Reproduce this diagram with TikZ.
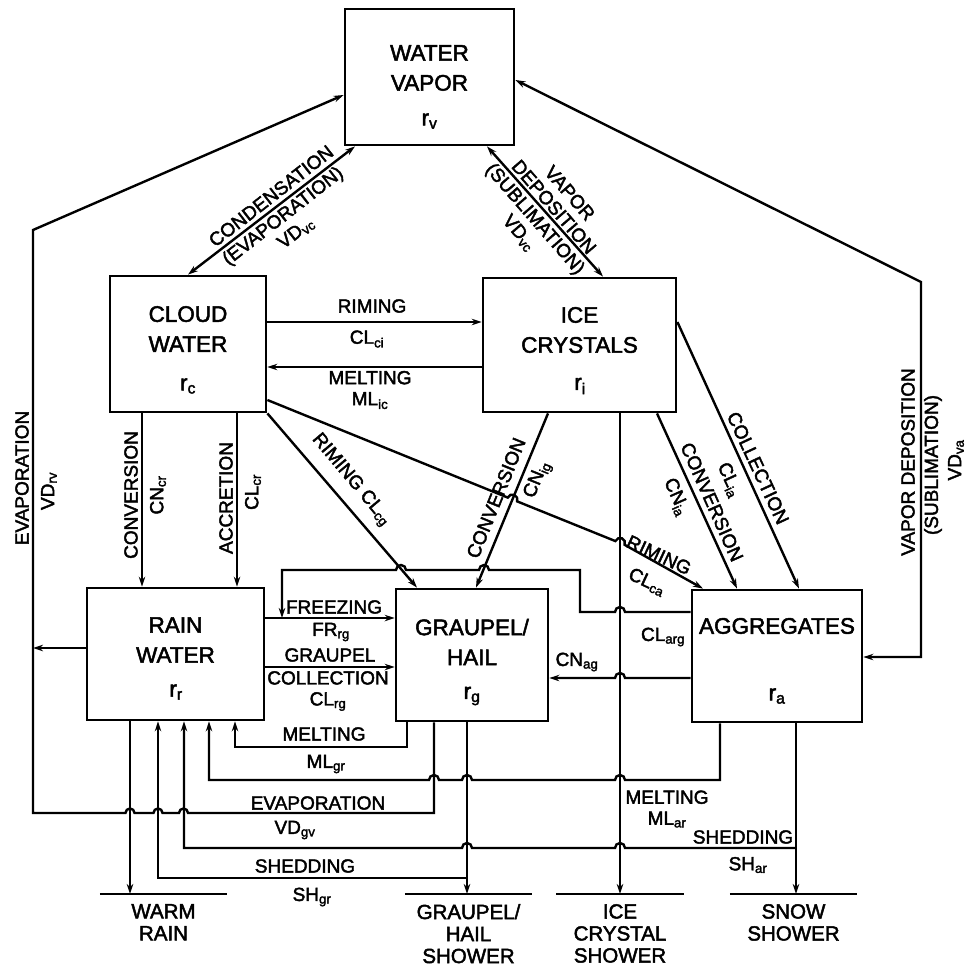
\documentclass[tikz,border=0pt]{standalone}
\usepackage{fontspec}
\setmainfont{Liberation Sans}[FakeBold=2.2]
\usetikzlibrary{arrows.meta}
\tikzset{
box/.style={draw, line width=2.8pt, inner sep=0pt},
boxtext/.style={font=\fontsize{22.5}{30}\selectfont, align=center, inner sep=0pt},
lbl/.style={font=\fontsize{19}{23}\selectfont, align=center, inner sep=1pt},
stack/.style={font=\fontsize{19}{21}\selectfont, align=center, inner sep=1pt},
sink/.style={font=\fontsize{20.5}{22}\selectfont, align=center, anchor=north, inner xsep=0pt, inner ysep=10pt, minimum width=127pt},
flow/.style={line width=2.4pt, -{Stealth[length=10pt,width=6.5pt]}},
both/.style={line width=2.4pt, {Stealth[length=10pt,width=6.5pt]}-{Stealth[length=10pt,width=6.5pt]}},
base/.style={line width=2.8pt}
}
\begin{document}
\begin{tikzpicture}[x=1pt,y=-1pt]
\useasboundingbox (0,0) rectangle (965,968);
\node[box, minimum width=169pt, minimum height=136pt] (wv) at (429.5,77) {};
\node[box, minimum width=156pt, minimum height=136pt] (cw) at (188,344) {};
\node[box, minimum width=193pt, minimum height=134pt] (ic) at (579.5,345) {};
\node[box, minimum width=177pt, minimum height=132pt] (rw) at (175.5,654) {};
\node[box, minimum width=152pt, minimum height=132pt] (gh) at (472,655) {};
\node[box, minimum width=170pt, minimum height=132pt] (ag) at (777,656) {};
\node[boxtext] (wvname) at (429.5,68) {WATER\\VAPOR};
\node[boxtext] (wvr) at (429.5,121) {r\textsubscript{v}};
\node[boxtext] (cwname) at (188,329) {CLOUD\\WATER};
\node[boxtext] (cwr) at (188,386) {r\textsubscript{c}};
\node[boxtext] (icname) at (579.5,330) {ICE\\CRYSTALS};
\node[boxtext] (icr) at (580,386) {r\textsubscript{i}};
\node[boxtext] (rwname) at (175.5,640) {RAIN\\WATER};
\node[boxtext] (rwr) at (176,692) {r\textsubscript{r}};
\node[boxtext] (ghname) at (472,642) {GRAUPEL/\\HAIL};
\node[boxtext] (ghr) at (472,696) {r\textsubscript{g}};
\node[boxtext] (agname) at (777,626) {AGGREGATES};
\node[boxtext] (agr) at (777,696) {r\textsubscript{a}};
\node[sink] (warm) at (163.5,894) {WARM\\RAIN};
\node[sink] (ghs) at (468.5,894) {GRAUPEL/\\HAIL\\SHOWER};
\node[sink] (ics) at (620,894) {ICE\\CRYSTAL\\SHOWER};
\node[sink] (snow) at (793.5,894) {SNOW\\SHOWER};
\draw[base] (warm.north west) -- (warm.north east);
\draw[base] (ghs.north west) -- (ghs.north east);
\draw[base] (ics.north west) -- (ics.north east);
\draw[base] (snow.north west) -- (snow.north east);
\coordinate (evapjoin) at (33,648);
\coordinate (snowtap) at (796,848);
\coordinate (hailtap) at (467,878);
\draw[both] (cw.north) -- (wv.south -| 355,0);
\draw[both] (wv.south -| 487,0) -- (ic.north -| 603,0);
\draw[flow] (gh.south -| 434,0) -- (434,813) -- (188,813) arc[start angle=0,end angle=180,radius=4.5pt]
-- (162.5,813) arc[start angle=0,end angle=180,radius=4.5pt] -- (134.5,813) arc[start angle=0,end angle=180,radius=4.5pt]
-- (33,813) -- (33,230) -- (wv.west |- 0,95);
\draw[flow] (rw.west |- 0,648) -- (evapjoin);
\draw[both] (ag.east |- 0,657) -- (921,657) -- (921,282) -- (wv.east |- 0,80);
\draw[flow] (cw.east |- 0,322) -- (ic.west |- 0,322);
\draw[flow] (ic.west |- 0,367) -- (cw.east |- 0,367);
\draw[flow] (cw.south -| 142,0) -- (rw.north -| 142,0);
\draw[flow] (cw.south -| 237,0) -- (rw.north -| 237,0);
\draw[flow] (cw.south east) -- (gh.north -| 417,0);
\draw[flow] (cw.east |- 0,400) -- (507.8,497.6) arc[start angle=158,end angle=-22,radius=5pt]
-- (615.4,541.1) arc[start angle=158,end angle=-22,radius=5pt] -- (ag.north -| 703,0);
\draw[flow] (ic.south -| 548,0) -- (gh.north -| 476,0);
\draw[flow] (ic.south -| 657,0) -- (ag.north -| 737,0);
\draw[flow] (ic.east |- 0,322) -- (ag.north -| 799,0);
\draw[flow] (ic.south -| 620,0) -- (ics.north);
\draw[flow] (rw.east |- 0,618) -- (gh.west |- 0,618);
\draw[flow] (rw.east |- 0,667) -- (gh.west |- 0,667);
\draw[flow] (ag.west |- 0,612) -- (625,612) arc[start angle=0,end angle=180,radius=5pt] -- (580,612) -- (580,570)
-- (489,570) arc[start angle=0,end angle=180,radius=5pt] -- (406,570) arc[start angle=0,end angle=180,radius=5pt]
-- (282,570) -- (282,618);
\draw[flow] (ag.west |- 0,678) -- (625,678) arc[start angle=0,end angle=180,radius=5pt] -- (gh.east |- 0,678);
\draw[flow] (gh.south -| 407,0) -- (407,747) -- (235,747) -- (rw.south -| 235,0);
\draw[flow] (ag.south -| 720,0) -- (720,780) -- (625,780) arc[start angle=0,end angle=180,radius=5pt]
-- (472,780) arc[start angle=0,end angle=180,radius=5pt] -- (439,780) arc[start angle=0,end angle=180,radius=5pt]
-- (209,780) -- (rw.south -| 209,0);
\draw[flow] (ag.south -| 796,0) -- (snow.north -| 796,0);
\draw[flow] (snowtap) -- (625,848) arc[start angle=0,end angle=180,radius=5pt] -- (472,848)
arc[start angle=0,end angle=180,radius=5pt] -- (184,848) -- (rw.south -| 184,0);
\draw[flow] (gh.south -| 467,0) -- (ghs.north -| 467,0);
\draw[flow] (hailtap) -- (158,878) -- (rw.south -| 158,0);
\draw[flow] (rw.south -| 130,0) -- (warm.north -| 130,0);
\node[lbl, rotate=38] (condl) at (271,196) {CONDENSATION};
\node[stack, rotate=38] (evapl) at (289.5,224.5) {(EVAPORATION)\\VD\textsubscript{vc}};
\node[stack, rotate=-49] (depl) at (562,200) {VAPOR\\DEPOSITION};
\node[stack, rotate=-49] (subl) at (527,226) {(SUBLIMATION)\\VD\textsubscript{vc}};
\node[lbl, rotate=90] (evrvl) at (22,478) {EVAPORATION};
\node[lbl, rotate=90] (vdrvl) at (49,491) {VD\textsubscript{rv}};
\node[lbl, rotate=90] (vdepl) at (908,462) {VAPOR DEPOSITION};
\node[lbl, rotate=90] (sublr) at (933,465) {(SUBLIMATION)};
\node[lbl, rotate=90] (vdval) at (956,460) {VD\textsubscript{va}};
\node[lbl] (rimcil) at (372,306) {RIMING};
\node[lbl] (clcil) at (367,339) {CL\textsubscript{ci}};
\node[stack] (meltil) at (370,390) {MELTING\\ML\textsubscript{ic}};
\node[lbl, rotate=90] (cncrA) at (131,495) {CONVERSION};
\node[lbl, rotate=90] (cncrB) at (158,495) {CN\textsubscript{cr}};
\node[lbl, rotate=90] (clcrA) at (226,498) {ACCRETION};
\node[lbl, rotate=90] (clcrB) at (253,492) {CL\textsubscript{cr}};
\node[lbl, rotate=-50] (clcgl) at (351,480) {RIMING CL\textsubscript{cg}};
\node[lbl, rotate=68] (cnigA) at (496,498) {CONVERSION};
\node[lbl, rotate=68] (cnigB) at (538,480) {CN\textsubscript{ig}};
\node[lbl, rotate=-25] (clcaA) at (659,555) {RIMING};
\node[lbl, rotate=-25] (clcaB) at (647,582) {CL\textsubscript{ca}};
\node[lbl, rotate=-66] (cniaA) at (712,502) {CONVERSION};
\node[lbl, rotate=-66] (cniaB) at (676,497) {CN\textsubscript{ia}};
\node[lbl, rotate=-65] (cliaA) at (758,468) {COLLECTION};
\node[lbl, rotate=-65] (cliaB) at (729,480) {CL\textsubscript{ia}};
\node[lbl] (frl) at (334,607) {FREEZING};
\node[lbl] (frrgl) at (331,632) {FR\textsubscript{rg}};
\node[lbl] (grpl) at (330,655) {GRAUPEL};
\node[stack] (coll) at (328,691) {COLLECTION\\CL\textsubscript{rg}};
\node[lbl] (clargl) at (663,637) {CL\textsubscript{arg}};
\node[lbl] (cnagl) at (577,662) {CN\textsubscript{ag}};
\node[lbl] (mgrA) at (324,734) {MELTING};
\node[lbl] (mgrB) at (326,764) {ML\textsubscript{gr}};
\node[stack] (marA) at (667,809) {MELTING\\ML\textsubscript{ar}};
\node[lbl] (vdgvA) at (318,803) {EVAPORATION};
\node[lbl] (vdgvB) at (295,830) {VD\textsubscript{gv}};
\node[lbl] (sharA) at (743,837) {SHEDDING};
\node[lbl] (sharB) at (748,865) {SH\textsubscript{ar}};
\node[lbl] (shgrA) at (305,866) {SHEDDING};
\node[lbl] (shgrB) at (312,897) {SH\textsubscript{gr}};
\end{tikzpicture}
\end{document}
